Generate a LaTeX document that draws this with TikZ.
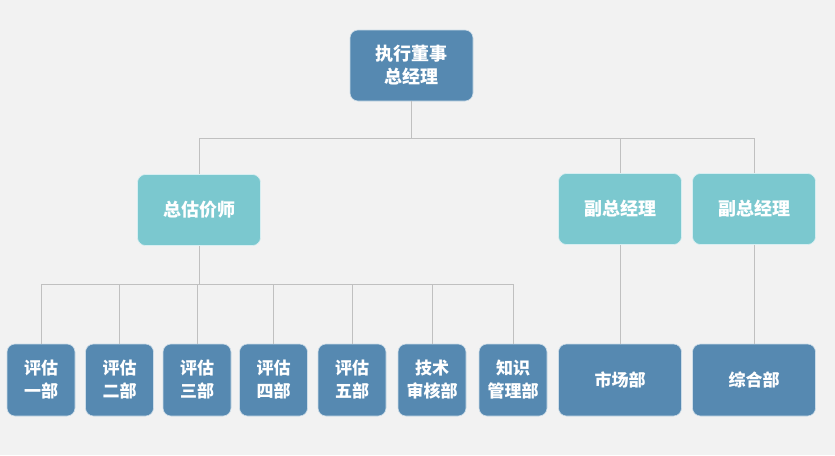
\documentclass[tikz,border=0pt]{standalone}
\usepackage{fontspec}
\newfontfamily\cjk{Noto Sans CJK SC}[BoldFont={Noto Sans CJK SC Black}]
\usepackage{tikz}
\usetikzlibrary{positioning, backgrounds}
\definecolor{bgray}{RGB}{242,242,242}
\definecolor{deptblue}{RGB}{86,137,177}
\definecolor{leadteal}{RGB}{123,200,207}
\definecolor{linkgray}{RGB}{192,192,192}

\begin{document}
\begin{tikzpicture}[x=1pt, y=-1pt,
            org box/.style={rounded corners=8pt, draw=white!70!deptblue, line width=0.6pt,
                text=white, align=center, inner sep=0pt,
                font=\cjk\bfseries\fontsize{18}{23}\selectfont},
            top box/.style={org box, fill=deptblue, minimum width=123pt, minimum height=71pt},
            lead box/.style={org box, fill=leadteal, draw=white!70!leadteal, minimum width=123pt, minimum height=71pt},
            dept box/.style={org box, fill=deptblue, minimum width=68pt, minimum height=72pt,
                font=\cjk\bfseries\fontsize{17}{23}\selectfont},
            wide box/.style={dept box, minimum width=123pt},
            link/.style={draw=linkgray, line width=0.8pt}]

            % Top level
            \node[top box] (ceo) at (411.5,65.5) {执行董事\\总经理};

            % Second level
            \node[lead box] (chief) at (199,210) {总估价师};
            \node[lead box] (vp1) at (620,209) {副总经理};
            \node[lead box] (vp2) at (754,209) {副总经理};

            % Departments
            \node[dept box] (d1) at (41,380) {评估\\一部};
            \node[dept box] (d2) at (119.5,380) {评估\\二部};
            \node[dept box] (d3) at (197,380) {评估\\三部};
            \node[dept box] (d4) at (273.5,380) {评估\\四部};
            \node[dept box] (d5) at (352,380) {评估\\五部};
            \node[dept box] (d6) at (432,380) {技术\\审核部};
            \node[dept box] (d7) at (513,380) {知识\\管理部};
            \node[wide box] (market) at (620,380) {市场部};
            \node[wide box] (admin) at (754,380) {综合部};

            % Connectors
            \coordinate (bus1) at (411.5,138);
            \coordinate (bus2) at (199,284);
            \draw[link] (ceo.south) -- (bus1);
            \foreach \n in {chief, vp1, vp2}
                \draw[link] (\n.north) |- (bus1);
            \draw[link] (chief.south) -- (bus2);
            \foreach \n in {d1, d2, d3, d4, d5, d6, d7}
                \draw[link] (\n.north) |- (bus2);
            \draw[link] (vp1.south) -- (market.north);
            \draw[link] (vp2.south) -- (admin.north);

            % Background
            \begin{scope}[on background layer]
                \fill[bgray] (0,0) rectangle (835,455);
            \end{scope}
        \end{tikzpicture}
\end{document}
